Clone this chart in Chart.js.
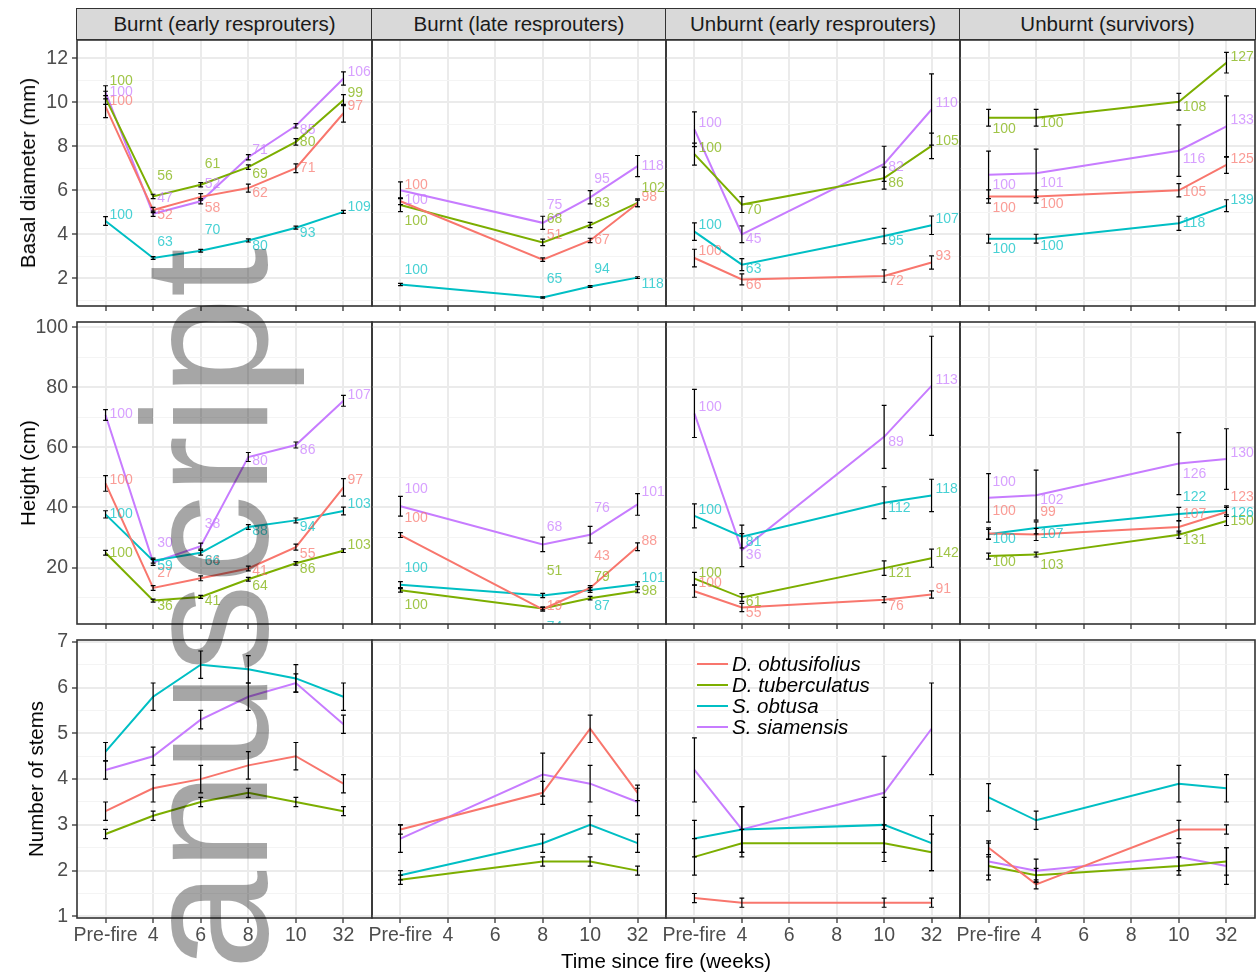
<!DOCTYPE html>
<html>
<head>
<meta charset="utf-8">
<script src="https://cdn.jsdelivr.net/npm/chart.js@4.4.1/dist/chart.umd.min.js"></script>
<style>
  body { margin: 0; background: #fff; }
  #page { position: relative; width: 1259px; height: 973px; overflow: hidden; background: #fff;
          font-family: "Liberation Sans", Arial, sans-serif; }
  canvas { position: absolute; }
  .strip { position: absolute; top: 8px; height: 32px; background: #d9d9d9; border: 1.5px solid #333;
           box-sizing: border-box; font-size: 20.5px; color: #1a1a1a; text-align: center; line-height: 29px; }
  .ytitle { position: absolute; font-size: 20.5px; color: #000; white-space: nowrap;
            transform: translate(-50%, -50%) rotate(-90deg); }
  .xtitle { position: absolute; font-size: 20.5px; color: #000; white-space: nowrap; transform: translate(-50%, -50%); }
  #legend { position: absolute; left: 697px; top: 653px; }
  #legend .row { display: flex; align-items: center; height: 21px; }
  #legend .key { width: 31px; height: 2px; }
  #legend .txt { font-style: italic; font-size: 20.5px; color: #000; margin-left: 4px; }
  #wm { position: absolute; left: 117px; top: 970px; font-size: 178px; line-height: 178px; white-space: nowrap;
        color: rgba(0, 0, 0, 0.35); transform-origin: 0 0; transform: rotate(-90deg); }
</style>
</head>
<body>
<div id="page"></div>
<script>
const weeks = ['Pre-fire', '4', '6', '8', '10', '32'];
const species = ['D. obtusifolius', 'D. tuberculatus', 'S. obtusa', 'S. siamensis'];
const sites = ['Burnt (early resprouters)', 'Burnt (late resprouters)', 'Unburnt (early resprouters)', 'Unburnt (survivors)'];
const measures = ['Basal diameter (mm)', 'Height (cm)', 'Number of stems'];
// which week (index into weeks) each site was measured at
const siteWeeks = [[0, 1, 2, 3, 4, 5], [0, 3, 4, 5], [0, 1, 4, 5], [0, 1, 4, 5]];

// values per site, one row per species (same order as species)
const diamMean = [
  [[9.8, 5.1, 5.7, 6.1, 7.0, 9.5], [10.2, 5.72, 6.25, 7.05, 8.2, 10.1], [4.6, 2.92, 3.25, 3.72, 4.3, 5.02], [10.45, 4.93, 5.5, 7.5, 8.93, 11.08]],
  [[5.5, 2.85, 3.72, 5.4], [5.33, 3.63, 4.42, 5.43], [1.72, 1.13, 1.63, 2.03], [6.0, 4.52, 5.68, 7.1]],
  [[2.92, 1.95, 2.1, 2.72], [7.64, 5.35, 6.55, 8.02], [4.12, 2.62, 3.92, 4.41], [8.77, 4.0, 7.2, 9.67]],
  [[5.72, 5.72, 6.0, 7.15], [9.3, 9.3, 10.02, 11.8], [3.8, 3.8, 4.5, 5.3], [6.7, 6.77, 7.8, 8.9]]
];
const diamSE = [
  [[0.5, 0.12, 0.15, 0.18, 0.2, 0.4], [0.3, 0.1, 0.1, 0.1, 0.15, 0.25], [0.2, 0.06, 0.06, 0.07, 0.07, 0.07], [0.3, 0.12, 0.12, 0.12, 0.1, 0.3]],
  [[0.15, 0.08, 0.1, 0.15], [0.3, 0.15, 0.12, 0.18], [0.05, 0.03, 0.04, 0.04], [0.38, 0.3, 0.3, 0.48]],
  [[0.4, 0.25, 0.28, 0.3], [0.5, 0.36, 0.5, 0.58], [0.4, 0.27, 0.35, 0.42], [0.79, 0.38, 0.8, 1.62]],
  [[0.3, 0.3, 0.3, 0.38], [0.38, 0.38, 0.38, 0.47], [0.2, 0.2, 0.32, 0.27], [1.08, 1.1, 1.17, 1.39]]
];
const diamPct = [
  [[100, 52, 58, 62, 71, 97], [100, 56, 61, 69, 80, 99], [100, 63, 70, 80, 93, 109], [100, 47, 52, 71, 85, 106]],
  [[100, 51, 67, 98], [100, 68, 83, 102], [100, 65, 94, 118], [100, 75, 95, 118]],
  [[100, 66, 72, 93], [100, 70, 86, 105], [100, 63, 95, 107], [100, 45, 82, 110]],
  [[100, 100, 105, 125], [100, 100, 108, 127], [100, 100, 118, 139], [100, 101, 116, 133]]
];
// vertical nudge of each percentage label (px)
const diamNudge = [
  [[-6, 5, 11, 5, 0, -7], [-17, -20, -21, 7, 0, -7], [-6, -16, -21, 6, 5, -5], [0, -16, -17, -7, 4, -6]],
  [[-16, -24, 0, -6], [16, -23, -22, -15], [-14, -18, -17, 7], [10, -18, -18, 0]],
  [[-7, 6, 5, -6], [-6, 6, 5, -5], [-6, 5, 5, -6], [-6, 5, 3, -6]],
  [[12, 8, 2, -6], [11, 5, 5, -6], [10, 7, 0, -6], [10, 10, 8, -6]]
];

const heightMean = [
  [[48, 13.2, 16.4, 19.7, 26.8, 46.7], [24.9, 9.0, 10.2, 16.1, 21.4, 25.6], [37.7, 22.3, 24.9, 33.5, 35.7, 38.8], [70.8, 21.7, 27.1, 56.8, 60.8, 75.5]],
  [[30.8, 6.1, 13.2, 26.9], [12.4, 6.4, 9.8, 12.2], [14.3, 10.7, 12.5, 14.4], [40.4, 27.7, 30.9, 41.0]],
  [[12.1, 6.7, 9.3, 11.0], [16.3, 10.0, 19.8, 23.1], [37.2, 30.3, 41.6, 44.0], [71.3, 25.8, 63.5, 80.5]],
  [[31.3, 31.0, 33.5, 38.5], [23.8, 24.3, 30.9, 35.5], [31.1, 33.2, 37.8, 39.0], [43.2, 44.1, 54.6, 56.1]]
];
const heightSE = [
  [[2.6, 0.8, 0.8, 0.8, 1.0, 2.9], [0.8, 0.5, 0.5, 0.6, 0.6, 0.6], [1.2, 0.8, 0.8, 0.8, 0.8, 1.3], [1.8, 1.0, 1.0, 1.5, 1.0, 1.8]],
  [[0.8, 0.6, 0.8, 1.3], [0.6, 0.5, 0.6, 0.6], [1.0, 0.7, 0.8, 0.8], [3.3, 2.4, 2.8, 3.6]],
  [[2.0, 1.4, 1.0, 1.2], [2.1, 1.3, 2.4, 3.0], [4.0, 3.8, 5.3, 5.4], [8.0, 5.5, 10.5, 16.5]],
  [[1.9, 2.0, 2.0, 1.5], [1.0, 0.8, 1.2, 1.5], [1.6, 2.0, 2.2, 1.5], [8.1, 8.3, 10.3, 10.1]]
];
const heightPct = [
  [[100, 27, 34, 41, 55, 97], [100, 36, 41, 64, 86, 103], [100, 59, 66, 88, 94, 103], [100, 30, 38, 80, 86, 107]],
  [[100, 19, 43, 88], [100, 51, 79, 98], [100, 74, 87, 101], [100, 68, 76, 101]],
  [[100, 55, 76, 91], [100, 61, 121, 142], [100, 81, 112, 118], [100, 36, 89, 113]],
  [[100, 99, 107, 123], [100, 103, 131, 150], [100, 107, 122, 126], [100, 102, 126, 130]]
];
const heightNudge = [
  [[-3, -15, -17, 3, 7, -7], [0, 6, 4, 7, 6, -6], [0, 6, 8, 4, 7, -7], [-1, -19, -22, 4, 5, -6]],
  [[-17, -3, -32, -6], [15, -37, -21, 0], [-17, 32, 16, -6], [-17, -17, -27, -12]],
  [[-8, 6, 6, -5], [-6, 5, 5, -5], [-6, 6, 5, -6], [-6, 5, 5, -6]],
  [[-22, -22, -13, -15], [6, 11, 5, 0], [5, 6, -17, 3], [-16, 5, 11, -6]]
];

const stemsMean = [
  [[3.3, 3.8, 4.0, 4.3, 4.5, 3.9], [2.8, 3.2, 3.5, 3.7, 3.5, 3.3], [4.6, 5.8, 6.5, 6.4, 6.2, 5.8], [4.2, 4.5, 5.3, 5.8, 6.1, 5.2]],
  [[2.9, 3.7, 5.1, 3.7], [1.8, 2.2, 2.2, 2.0], [1.9, 2.6, 3.0, 2.6], [2.7, 4.1, 3.9, 3.5]],
  [[1.4, 1.3, 1.3, 1.3], [2.3, 2.6, 2.6, 2.4], [2.7, 2.9, 3.0, 2.6], [4.2, 2.9, 3.7, 5.1]],
  [[2.5, 1.7, 2.9, 2.9], [2.1, 1.9, 2.1, 2.2], [3.6, 3.1, 3.9, 3.8], [2.2, 2.0, 2.3, 2.1]]
];
const stemsSE = [
  [[0.2, 0.3, 0.3, 0.3, 0.3, 0.2], [0.1, 0.1, 0.1, 0.1, 0.1, 0.1], [0.2, 0.3, 0.3, 0.3, 0.3, 0.3], [0.2, 0.2, 0.2, 0.3, 0.2, 0.2]],
  [[0.1, 0.25, 0.3, 0.17], [0.1, 0.1, 0.1, 0.1], [0.1, 0.2, 0.2, 0.2], [0.3, 0.47, 0.4, 0.3]],
  [[0.1, 0.1, 0.1, 0.1], [0.4, 0.3, 0.4, 0.4], [0.4, 0.5, 0.6, 0.6], [0.7, 0.5, 0.8, 1.0]],
  [[0.15, 0.1, 0.2, 0.1], [0.2, 0.15, 0.2, 0.3], [0.3, 0.2, 0.4, 0.3], [0.4, 0.25, 0.3, 0.4]]
];

// y axis ticks per row
const yMajor = [[2, 4, 6, 8, 10, 12], [20, 40, 60, 80, 100], [1, 2, 3, 4, 5, 6, 7]];
const yMinor = [[1, 3, 5, 7, 9, 11], [10, 30, 50, 70, 90], [1.5, 2.5, 3.5, 4.5, 5.5, 6.5]];
const yLimits = [[0.74, 12.83], [1.2, 101.75], [0.965, 7.04]];

const lineColors = ['#F8766D', '#7CAE00', '#00BFC4', '#C77CFF'];
const labelColors = ['rgba(248,118,109,0.72)', 'rgba(124,174,0,0.72)', 'rgba(0,191,196,0.72)', 'rgba(199,124,255,0.72)'];

const rowsData = [
  { mean: diamMean, se: diamSE, pct: diamPct, nudge: diamNudge },
  { mean: heightMean, se: heightSE, pct: heightPct, nudge: heightNudge },
  { mean: stemsMean, se: stemsSE, pct: null, nudge: null }
];

// page layout (px)
const colEdges = [77, 372, 666, 960, 1255];
const rowEdges = [[40, 306], [322, 624], [640, 918]];
const yTitleX = [28, 28, 36];

Chart.defaults.font.family = '"Liberation Sans", Arial, sans-serif';
const page = document.getElementById('page');

// Plugin para barras de error, etiquetas y borde del panel
function panelDecor(row, col) {
  const d = rowsData[row];
  const wk = siteWeeks[col];
  return {
    id: 'panelDecor',
    afterDatasetsDraw(chart) {
      const { ctx, chartArea: a, scales: { x, y } } = chart;
      ctx.save();
      ctx.strokeStyle = '#000';
      ctx.lineWidth = 1.2;
      d.mean[col].forEach((serie, s) => serie.forEach((v, k) => {
        const px = x.getPixelForValue(wk[k]);
        const e = d.se[col][s][k];
        const top = y.getPixelForValue(v + e);
        const bot = y.getPixelForValue(v - e);
        ctx.beginPath();
        ctx.moveTo(px, top); ctx.lineTo(px, bot);
        ctx.moveTo(px - 2.4, top); ctx.lineTo(px + 2.4, top);
        ctx.moveTo(px - 2.4, bot); ctx.lineTo(px + 2.4, bot);
        ctx.stroke();
      }));
      if (d.pct) {
        ctx.beginPath();
        ctx.rect(a.left, a.top, a.width, a.height);
        ctx.clip();
        ctx.font = '14px "Liberation Sans", Arial, sans-serif';
        ctx.textAlign = 'left';
        ctx.textBaseline = 'middle';
        d.pct[col].forEach((serie, s) => {
          ctx.fillStyle = labelColors[s];
          serie.forEach((lab, k) => {
            const px = x.getPixelForValue(wk[k]) + 4;
            const py = y.getPixelForValue(d.mean[col][s][k]) + d.nudge[col][s][k];
            ctx.fillText(String(lab), px, py);
          });
        });
      }
      ctx.restore();
    },
    afterDraw(chart) {
      const { ctx, chartArea: a } = chart;
      ctx.save();
      ctx.strokeStyle = '#333';
      ctx.lineWidth = 1.6;
      ctx.strokeRect(a.left, a.top, a.width, a.height);
      ctx.restore();
    }
  };
}

function makePanel(row, col) {
  const [top, bottom] = rowEdges[row];
  const left = colEdges[col], right = colEdges[col + 1];
  const axisW = col === 0 ? 47 : 0;
  const padL = col === 0 ? 0 : 12, padT = 12, padR = 12, padB = 4;
  const xAxisH = row === 2 ? 40 : 6;

  const canvas = document.createElement('canvas');
  canvas.width = axisW + padL + (right - left) + padR;
  canvas.height = padT + (bottom - top) + xAxisH + padB;
  canvas.style.left = (left - axisW - padL) + 'px';
  canvas.style.top = (top - padT) + 'px';
  page.appendChild(canvas);

  const d = rowsData[row];
  const majors = yMajor[row];
  const yTicks = yMajor[row].concat(yMinor[row]).sort((p, q) => p - q);
  const isMajor = v => majors.includes(v);

  const datasets = species.map((name, s) => ({
    label: name,
    data: d.mean[col][s].map((v, k) => ({ x: siteWeeks[col][k], y: v })),
    borderColor: lineColors[s],
    borderWidth: 2,
    pointRadius: 0,
    fill: false,
    tension: 0
  }));

  new Chart(canvas, {
    type: 'line',
    data: { datasets },
    options: {
      responsive: false,
      animation: false,
      devicePixelRatio: 1,
      events: [],
      layout: { padding: { left: padL, top: padT, right: padR, bottom: padB } },
      plugins: { legend: { display: false }, tooltip: { enabled: false } },
      scales: {
        x: {
          type: 'linear',
          min: -0.6,
          max: 5.6,
          bounds: 'data',
          afterBuildTicks: s => { s.ticks = weeks.map((w, i) => ({ value: i })); },
          afterFit: s => {
            s.height = xAxisH;
            s.paddingLeft = 0; s.paddingRight = 0; s.paddingTop = 0; s.paddingBottom = 0;
          },
          ticks: {
            display: row === 2,
            autoSkip: false,
            maxRotation: 0,
            padding: 1,
            color: '#4d4d4d',
            font: { size: 19.5 },
            callback: v => weeks[v]
          },
          grid: { color: '#ebebeb', lineWidth: 2, tickLength: 5, tickColor: '#333', tickWidth: 1.3 },
          border: { display: false }
        },
        y: {
          type: 'linear',
          min: yLimits[row][0],
          max: yLimits[row][1],
          bounds: 'data',
          afterBuildTicks: s => { s.ticks = yTicks.map(v => ({ value: v })); },
          afterFit: s => {
            s.width = axisW;
            s.paddingLeft = 0; s.paddingRight = 0; s.paddingTop = 0; s.paddingBottom = 0;
          },
          ticks: {
            display: col === 0,
            autoSkip: false,
            padding: 4,
            color: '#4d4d4d',
            font: { size: 19.5 },
            callback: v => isMajor(v) ? String(v) : ''
          },
          grid: {
            color: c => isMajor(c.tick.value) ? '#ebebeb' : '#f4f4f4',
            lineWidth: c => isMajor(c.tick.value) ? 2 : 1,
            drawTicks: col === 0,
            tickLength: 5,
            tickColor: c => isMajor(c.tick.value) ? '#333' : 'rgba(0,0,0,0)',
            tickWidth: 1.3
          },
          border: { display: false }
        }
      }
    },
    plugins: [panelDecor(row, col)]
  });
}

// strips
sites.forEach((name, c) => {
  const el = document.createElement('div');
  el.className = 'strip';
  el.style.left = (colEdges[c] - 0.75) + 'px';
  el.style.width = (colEdges[c + 1] - colEdges[c] + 1.5) + 'px';
  el.textContent = name;
  page.appendChild(el);
});

for (let r = 0; r < 3; r++) {
  for (let c = 0; c < 4; c++) makePanel(r, c);
  const t = document.createElement('div');
  t.className = 'ytitle';
  t.style.left = yTitleX[r] + 'px';
  t.style.top = ((rowEdges[r][0] + rowEdges[r][1]) / 2) + 'px';
  t.textContent = measures[r];
  page.appendChild(t);
}

const xt = document.createElement('div');
xt.className = 'xtitle';
xt.style.left = '666px';
xt.style.top = '961px';
xt.textContent = 'Time since fire (weeks)';
page.appendChild(xt);

// legend inside the Unburnt (early resprouters) stems panel
const legend = document.createElement('div');
legend.id = 'legend';
species.forEach((name, s) => {
  const rowEl = document.createElement('div');
  rowEl.className = 'row';
  rowEl.innerHTML = `<span class="key" style="background:${lineColors[s]}"></span><span class="txt">${name}</span>`;
  legend.appendChild(rowEl);
});
page.appendChild(legend);

// watermark
const wm = document.createElement('div');
wm.id = 'wm';
wm.textContent = 'anuscript';
page.appendChild(wm);
</script>
</body>
</html>
